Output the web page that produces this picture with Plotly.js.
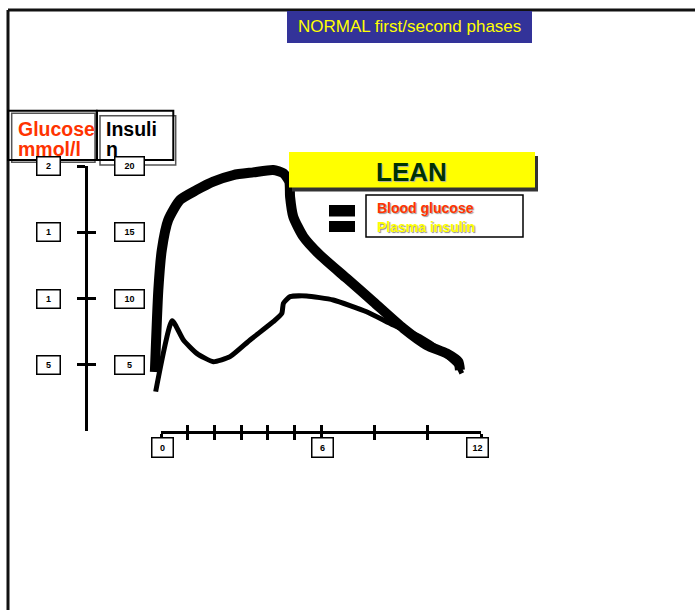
<!DOCTYPE html>
<html>
<head>
<meta charset="utf-8">
<script src="https://cdn.plot.ly/plotly-3.0.1.min.js"></script>
<style>html,body{margin:0;padding:0;background:#fff;}#chart{width:695px;height:610px;}</style>
</head>
<body>
<div id="chart"></div>
<script>
// ---- data (time in minutes, value in insulin units) ----
const glucoseT = [-0.23, -0.10, 0.03, 0.27, 0.71, 1.34, 1.96, 2.71, 3.46, 4.21, 4.59, 4.81, 4.84, 4.96, 5.34, 5.96, 6.96, 7.96, 9.09, 9.96, 10.71, 11.15, 11.21];
const glucoseV = [4.45, 10.64, 13.66, 15.92, 17.43, 18.19, 18.82, 19.32, 19.52, 19.70, 19.45, 18.82, 17.68, 16.17, 14.66, 13.28, 11.52, 9.76, 7.75, 6.49, 5.86, 5.23, 4.60];
const insulinT = [-0.20, 0.42, 0.84, 1.34, 1.96, 2.59, 3.34, 4.21, 4.53, 4.59, 4.84, 5.46, 6.46, 7.71, 8.71, 9.71, 10.46, 11.15, 11.28];
const insulinV = [2.97, 8.32, 6.87, 5.86, 5.23, 5.61, 6.87, 8.25, 8.88, 9.64, 10.14, 10.19, 9.89, 9.00, 8.00, 7.12, 6.11, 4.85, 4.35];

const xTicks = [0, 1, 2, 3, 4, 5, 6, 8, 10, 12];
const xLabelVals = [0, 6, 12];
const xLabels = ['0', '6', '12'];
const yTickVals = [20, 15, 10, 5];
const glucoseLabels = ['2', '1', '1', '5'];
const insulinLabels = ['20', '15', '10', '5'];

const titleText = 'NORMAL first/second phases';
const panelText = 'LEAN';
const seriesNames = ['Blood glucose', 'Plasma insulin'];

// ---- layout helpers (page pixels -> paper) ----
const W = 695, H = 610;
const px = v => v / W;
const py = v => 1 - v / H;
const FONT = 'Liberation Sans, Arial, sans-serif';

// axis frame in pixels
const ax0 = 161, ax1 = 481, ayTop = 166, ayBot = 431, yAxisX = 86;
const pxPerX = (ax1 - ax0) / 12;
const pxPerY = (ayBot - ayTop) / 20;

const traces = [
  {x: glucoseT, y: glucoseV, name: seriesNames[0], mode: 'lines', xaxis: 'x', yaxis: 'y',
   line: {color: '#000', width: 10, shape: 'spline', smoothing: 0.6}, hoverinfo: 'skip'},
  {x: insulinT, y: insulinV, name: seriesNames[1], mode: 'lines', xaxis: 'x', yaxis: 'y',
   line: {color: '#000', width: 5, shape: 'spline', smoothing: 0.5}, hoverinfo: 'skip'},
  {x: [null], y: [null], xaxis: 'x2', yaxis: 'y2', mode: 'markers', hoverinfo: 'skip'},
  {x: [null], y: [null], xaxis: 'x3', yaxis: 'y3', mode: 'markers', hoverinfo: 'skip'}
];

const hidden = {visible: false, fixedrange: true};
const tickAxX = {range: [0, 12], showline: true, linecolor: '#000', linewidth: 3, tickvals: xTicks,
  ticklen: 6, tickwidth: 3, tickcolor: '#000', showticklabels: false, showgrid: false, zeroline: false};
const tickAxY = {range: [0, 20], showline: true, linecolor: '#000', linewidth: 3, tickvals: yTickVals,
  ticklen: 8, tickwidth: 3, tickcolor: '#000', showticklabels: false, showgrid: false, zeroline: false};

const layout = {
  width: W, height: H,
  margin: {l: 0, r: 0, t: 0, b: 0, pad: 0},
  paper_bgcolor: '#fff', plot_bgcolor: 'rgba(0,0,0,0)',
  showlegend: false,
  xaxis: Object.assign({}, hidden, {domain: [0, 1], range: [-ax0 / pxPerX, (W - ax0) / pxPerX]}),
  yaxis: Object.assign({}, hidden, {domain: [0, 1], range: [-(H - ayBot) / pxPerY, ayBot / pxPerY]}),
  xaxis2: Object.assign({}, tickAxX, {domain: [px(ax0), px(ax1)], anchor: 'y2', ticks: 'outside'}),
  xaxis3: Object.assign({}, tickAxX, {overlaying: 'x2', anchor: 'y2', ticks: 'inside'}),
  yaxis2: Object.assign({}, tickAxY, {domain: [py(ayBot), py(ayTop)], anchor: 'free', position: px(yAxisX), ticks: 'outside'}),
  yaxis3: Object.assign({}, tickAxY, {overlaying: 'y2', anchor: 'free', position: px(yAxisX), ticks: 'inside'}),
  shapes: [],
  annotations: []
};

function rect(x0, y0, x1, y1, fill, lineColor, lw) {
  layout.shapes.push({type: 'rect', xref: 'paper', yref: 'paper', x0: px(x0), x1: px(x1), y0: py(y1), y1: py(y0),
    fillcolor: fill, line: {color: lineColor || 'rgba(0,0,0,0)', width: lw || 0}, layer: 'above'});
}
function line(x0, y0, x1, y1, color, lw) {
  layout.shapes.push({type: 'line', xref: 'paper', yref: 'paper', x0: px(x0), x1: px(x1), y0: py(y0), y1: py(y1),
    line: {color: color, width: lw}, layer: 'above'});
}
function text(t, x, y, size, color, opts) {
  layout.annotations.push(Object.assign({text: t, xref: 'paper', yref: 'paper', x: px(x), y: py(y),
    xanchor: 'center', yanchor: 'middle', showarrow: false,
    font: {family: FONT, size: size, color: color}}, opts || {}));
}

// frame
line(8, 10, 695, 10, '#111', 3);
line(8, 10, 8, 610, '#111', 3);

// title bar
rect(287, 11, 532, 43, '#333399');
text(titleText, 409.5, 26, 17, '#ffff00');

// LEAN panel
rect(292, 156, 538, 191.5, '#333333');
rect(289, 152, 535, 187.5, '#ffff00');
text('<b>' + panelText + '</b>', 411.5, 172, 26, '#003300', {font: {family: FONT, size: 26, color: '#003300', shadow: '1px 1px 1px #aaaaaa'}});

// legend
rect(366, 195, 523, 237, '#ffffff', '#000', 1.5);
rect(329, 205, 355, 216.5, '#000');
rect(329, 221, 355, 232, '#000');
text('<b>' + seriesNames[0] + '</b>', 375, 208, 14, '#ff3300', {xanchor: 'left', font: {family: FONT, size: 14, color: '#ff3300', shadow: '1px 1px 1px #999999'}});
text('<b>' + seriesNames[1] + '</b>', 375, 226.5, 14, '#ffff00', {xanchor: 'left', font: {family: FONT, size: 14, color: '#ffff00', shadow: '1px 1px 1px #888888'}});

// axis header boxes
rect(11.7, 113.3, 95, 162.3, 'rgba(0,0,0,0)', '#555', 1.5);
rect(8, 110.7, 96.7, 160, 'rgba(0,0,0,0)', '#000', 2);
rect(100, 115.7, 175.7, 165, 'rgba(0,0,0,0)', '#555', 1.5);
rect(97, 110.7, 173.3, 160, 'rgba(0,0,0,0)', '#000', 2);
text('<b>Glucose</b>', 16, 128.5, 19.5, '#ff3300', {xanchor: 'left'});
text('<b>mmol/l</b>', 16, 149, 19.5, '#ff3300', {xanchor: 'left'});
text('<b>Insuli</b>', 103.5, 128.5, 19.5, '#000', {xanchor: 'left'});
text('<b>n</b>', 103.5, 149, 19.5, '#000', {xanchor: 'left'});

// boxed tick labels
const box = {bordercolor: '#000', borderwidth: 1.5, borderpad: 3, bgcolor: '#fff', showarrow: false,
  xanchor: 'center', yanchor: 'middle'};
xLabelVals.forEach((v, i) => {
  layout.annotations.push(Object.assign({}, box, {text: '<b>' + xLabels[i] + '</b>', xref: 'x2', x: v,
    xshift: i === xLabelVals.length - 1 ? -4 : 1, yref: 'paper', y: py(447), width: 14, height: 12,
    font: {family: FONT, size: 9, color: '#000'}}));
});
yTickVals.forEach((v, i) => {
  layout.annotations.push(Object.assign({}, box, {text: '<b>' + glucoseLabels[i] + '</b>', xref: 'paper', x: px(yAxisX),
    xshift: -37.5, yref: 'y2', y: v, width: 16, height: 11, font: {family: FONT, size: 9, color: '#000'}}));
  layout.annotations.push(Object.assign({}, box, {text: '<b>' + insulinLabels[i] + '</b>', xref: 'paper', x: px(yAxisX),
    xshift: 43, yref: 'y2', y: v, width: 22, height: 11, font: {family: FONT, size: 9, color: '#000'}}));
});

Plotly.newPlot('chart', traces, layout, {staticPlot: true, displayModeBar: false});
</script>
</body>
</html>
